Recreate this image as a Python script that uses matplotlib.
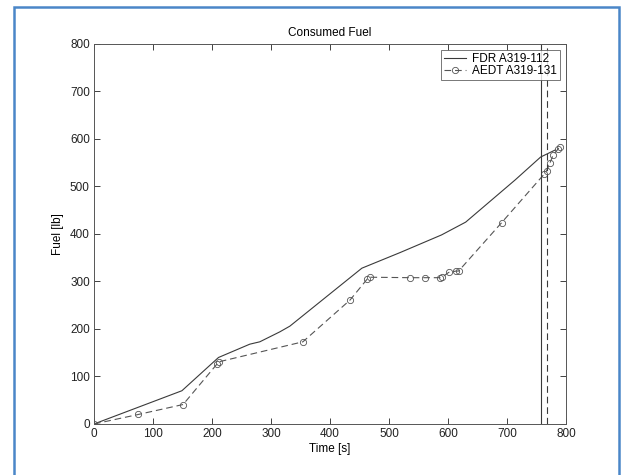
import matplotlib.pyplot as plt
from matplotlib.patches import Rectangle

plt.rcParams['font.family'] = ['Liberation Sans', 'DejaVu Sans']

# FDR record (solid line)
fdr_time = [0, 149, 211, 264, 281, 315, 332, 454, 519, 589, 630, 714, 757, 782]
fdr_fuel = [0, 70, 140, 168, 173, 194, 206, 328, 361, 398, 425, 514, 562, 577]

# AEDT model (dashed line, circle markers)
aedt_time = [0, 75, 151, 209, 212, 354, 434, 463, 467, 536, 561, 587, 590,
             601, 614, 618, 691, 763, 767, 773, 778, 786, 789]
aedt_fuel = [0, 20, 41, 127, 131, 173, 261, 305, 309, 308, 308, 308, 309,
             319, 322, 322, 424, 526, 533, 550, 566, 578, 584]

# end-of-flight markers
fdr_end = 757
aedt_end = 767

lineColor = "#3a3a3a"
dashColor = "#555555"

fig = plt.figure(figsize=(6.25, 4.75), dpi=100)
ax = fig.add_axes([0.1504, 0.1074, 0.7552, 0.80])

ax.plot(fdr_time, fdr_fuel, color=lineColor, linewidth=0.8, label="FDR A319-112")
ax.plot(aedt_time, aedt_fuel, color=dashColor, linewidth=0.8, linestyle=(0, (6, 3.5)),
        marker="o", markersize=4.5, markerfacecolor="none", markeredgewidth=0.6,
        markeredgecolor=dashColor, label="AEDT A319-131")
ax.axvline(fdr_end, color=lineColor, linewidth=0.8)
ax.axvline(aedt_end, color=lineColor, linewidth=0.8, linestyle=(0, (6, 3.5)))

ax.set_xlim(0, 800)
ax.set_ylim(0, 800)
ax.set_xticks(range(0, 801, 100))
ax.set_yticks(range(0, 801, 100))
ax.tick_params(direction="in", top=True, right=True, labelsize=8.5,
               length=4, width=0.6, colors="#222222", pad=3)
for s in ax.spines.values():
    s.set_linewidth(0.7)
    s.set_color("#555555")

ax.set_title("Consumed Fuel", fontsize=8.5, pad=6)
ax.set_xlabel("Time [s]", fontsize=8.5, labelpad=2)
ax.set_ylabel("Fuel [lb]", fontsize=8.5, labelpad=4)

leg = ax.legend(loc="upper right", fontsize=8.5, frameon=True, fancybox=False,
                borderpad=0.25, handlelength=1.9, labelspacing=0.05,
                borderaxespad=0.5, handletextpad=0.5)
leg.get_frame().set_edgecolor("#555555")
leg.get_frame().set_linewidth(0.7)

# blue frame round the figure
fig.patches.append(Rectangle((14 / 625, -0.05), 605 / 625, 1.05 - 7 / 475,
                             transform=fig.transFigure, fill=False,
                             edgecolor="#4a86c8", linewidth=1.8))

fig.savefig("out.png", dpi=100)
